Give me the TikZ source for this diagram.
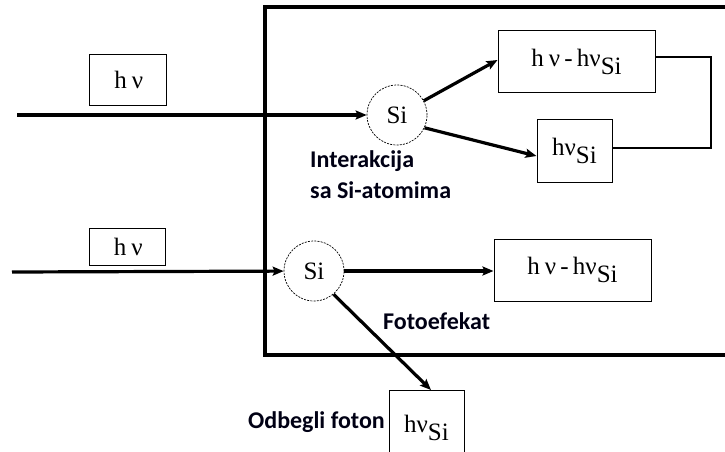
\documentclass[tikz,border=0pt]{standalone}
\usepackage{fontspec}
\setmainfont{Liberation Serif}
\newfontfamily\labelfont{Carlito}
\usetikzlibrary{arrows.meta}
% photon energies
\newcommand\hnu{h\hspace{0.2em}ν}
\newcommand\hnusi{hν\raisebox{-0.32em}{Si}}
\newcommand\hnudiff{\hnu\hspace{0.17em}-\hspace{0.17em}\hnusi}
\tikzset{
  x=1pt, y=-1pt,
  valbox/.style={draw, line width=1pt, inner sep=0pt, font=\fontsize{25}{28}\selectfont},
  atom/.style={draw, circle, dashed, dash pattern=on 2pt off 1.2pt, line width=0.7pt,
    minimum size=60pt, inner sep=0pt, font=\fontsize{25}{28}\selectfont},
  ray/.style={line width=3.2pt, -{Stealth[length=11pt,width=9pt,inset=2pt]}},
  caption/.style={font=\labelfont\bfseries\fontsize{24}{31}\selectfont, text=black!92!blue, align=left, inner sep=0pt},
  frame/.style={line width=4.2pt},
  link/.style={line width=2pt}
}
\begin{document}
\begin{tikzpicture}
\useasboundingbox (0,0) rectangle (725,452);
\begin{scope}
\clip (0,0) rectangle (725,452);
% outer chamber, open to the right
\coordinate (fr1) at (730,7);
\coordinate (fr2) at (265,7);
\coordinate (fr3) at (265,355);
\coordinate (fr4) at (730,355);
\draw[frame] (fr1) -- (fr2) -- (fr3) -- (fr4);

% upper path: interaction with Si atoms
\node[valbox, minimum width=77pt, minimum height=51pt] (nu1) at (127.5,80) {\hspace{0.1em}\hnu};
\coordinate (in1) at (17,115);
\node[atom] (si1) at (397,115) {Si};
\node[valbox, minimum width=157pt, minimum height=61pt] (diff1) at (576.5,61.5) {\hnudiff};
\node[valbox, minimum width=75pt, minimum height=63pt] (esc1) at (574.5,150.5) {\hnusi};
\draw[ray] (in1) -- (si1);
\draw[ray] (si1.28) -- (diff1.west |- 0,60);
\draw[ray] (si1.-25) -- (esc1.west |- 0,156);
\coordinate (lk1) at (711,57);
\coordinate (lk2) at (711,148);
\draw[link] (diff1.east |- lk1) -- (lk1) -- (lk2) -- (esc1.east |- lk2);
\node[caption, anchor=base west] (lab1) at (310,198) {Interakcija\\sa Si-atomima};

% lower path: photoeffect
\node[valbox, minimum width=76pt, minimum height=37pt] (nu2) at (127,246.5) {\hspace{0.1em}\hnu};
\coordinate (in2) at (12,272);
\node[atom] (si2) at (314,271) {Si};
\node[valbox, minimum width=157pt, minimum height=62pt] (diff2) at (572.5,270) {\hnudiff};
\node[valbox, minimum width=75pt, minimum height=75pt, anchor=north] (esc2) at (426.5,390) {\hnusi};
\draw[ray] (in2) -- (si2);
\draw[ray] (si2.east) -- (diff2.west |- si2.east);
\draw[ray] (si2.-50) -- (431,390);
\node[caption, anchor=base west] (lab2) at (383,329) {Fotoefekat};
\node[caption, anchor=base east] (lab3) at (385,428) {Odbegli foton};
\end{scope}
\end{tikzpicture}
\end{document}
